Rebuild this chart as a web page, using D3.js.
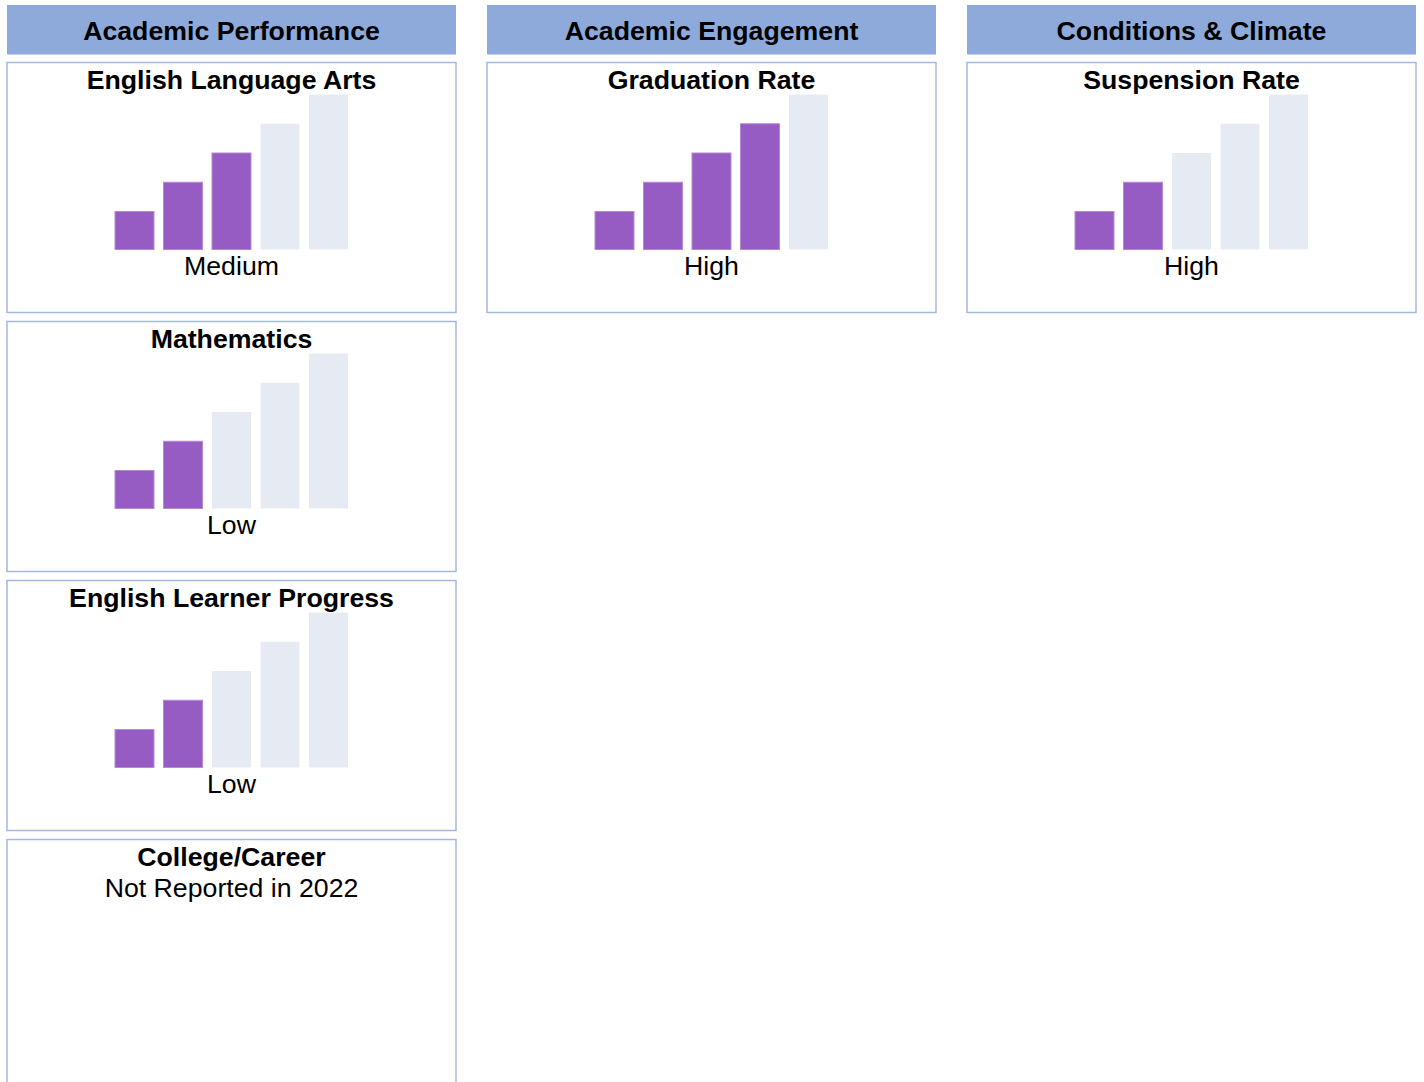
<!DOCTYPE html>
<html>
<head>
<meta charset="utf-8">
<script src="https://cdn.jsdelivr.net/npm/d3@7"></script>
<style>
  body { margin: 0; background: #fff; }
  svg { display: block; }
  text { font-family: "Liberation Sans", Arial, sans-serif; fill: #000; }
</style>
</head>
<body>
<div id="chart"></div>
<script>
// column headers
var groups = ["Academic Performance", "Academic Engagement", "Conditions & Climate"];

// one entry per indicator card
var indicatorNames = ["English Language Arts", "Mathematics", "English Learner Progress", "College/Career", "Graduation Rate", "Suspension Rate"];
var indicatorGroup = [0, 0, 0, 0, 1, 2];
var indicatorRow = [0, 1, 2, 3, 0, 0];
var filledBars = [3, 2, 2, null, 4, 2];
var statusLabels = ["Medium", "Low", "Low", "Not Reported in 2022", "High", "High"];

// the five status levels shown as a staircase
var levels = [1, 2, 3, 4, 5];

var width = 1424, height = 1082;
var colW = 449, colStep = 480, colLeft = 7;
var cardH = 250, cardTop = 62.5, cardStep = 259;

var svg = d3.select("#chart")
  .append("svg")
    .attr("width", width)
    .attr("height", height);

// header bars
svg.selectAll("g.header")
  .data(groups).enter()
  .append("g")
    .attr("class", "header")
    .attr("transform", function(d, i) { return "translate(" + (colLeft + i * colStep) + ",5)"; })
  .each(function(d) {
    var g = d3.select(this);
    g.append("rect")
      .attr("width", colW)
      .attr("height", 49.5)
      .style("fill", "#8eaadb");
    g.append("text")
      .attr("x", colW / 2)
      .attr("y", 35)
      .style("text-anchor", "middle")
      .style("font-weight", "bold")
      .style("font-size", "26.7px")
      .text(d);
  });

// scales for the little staircase
var x = d3.scaleBand()
  .domain(levels)
  .range([108, 341])
  .paddingInner(0.196)
  .paddingOuter(0);

var h = d3.scaleLinear()
  .domain([1, 5])
  .range([38, 155]);

var barBottom = 187;

var cards = svg.selectAll("g.card")
  .data(indicatorNames).enter()
  .append("g")
    .attr("class", "card")
    .attr("transform", function(d, i) {
      return "translate(" + (colLeft + indicatorGroup[i] * colStep) + "," + (cardTop + indicatorRow[i] * cardStep) + ")";
    });

cards.append("rect")
  .attr("width", colW)
  .attr("height", cardH)
  .style("fill", "#fff")
  .style("stroke", "#a3b8e0")
  .style("stroke-width", 1.5);

cards.append("text")
  .attr("x", colW / 2)
  .attr("y", 26.5)
  .style("text-anchor", "middle")
  .style("font-weight", "bold")
  .style("font-size", "26.7px")
  .text(function(d) { return d; });

cards.each(function(d, i) {
  var g = d3.select(this);
  var n = filledBars[i];
  if (n === null) {
    // no bars, status goes right under the title
    g.append("text")
      .attr("x", colW / 2)
      .attr("y", 57)
      .style("text-anchor", "middle")
      .style("font-size", "26.7px")
      .text(statusLabels[i]);
    return;
  }
  g.selectAll("rect.bar")
    .data(levels).enter()
    .append("rect")
      .attr("class", "bar")
      .attr("x", function(v) { return x(v); })
      .attr("y", function(v) { return barBottom - h(v); })
      .attr("width", x.bandwidth())
      .attr("height", function(v) { return h(v); })
      .style("fill", function(v) { return v <= n ? "#965cc3" : "#e6ebf3"; })
      .style("stroke", function(v) { return v <= n ? "#b48ad6" : "none"; })
      .style("stroke-width", 1);
  g.append("text")
    .attr("x", colW / 2)
    .attr("y", 212)
    .style("text-anchor", "middle")
    .style("font-size", "26.7px")
    .text(statusLabels[i]);
});
</script>
</body>
</html>
